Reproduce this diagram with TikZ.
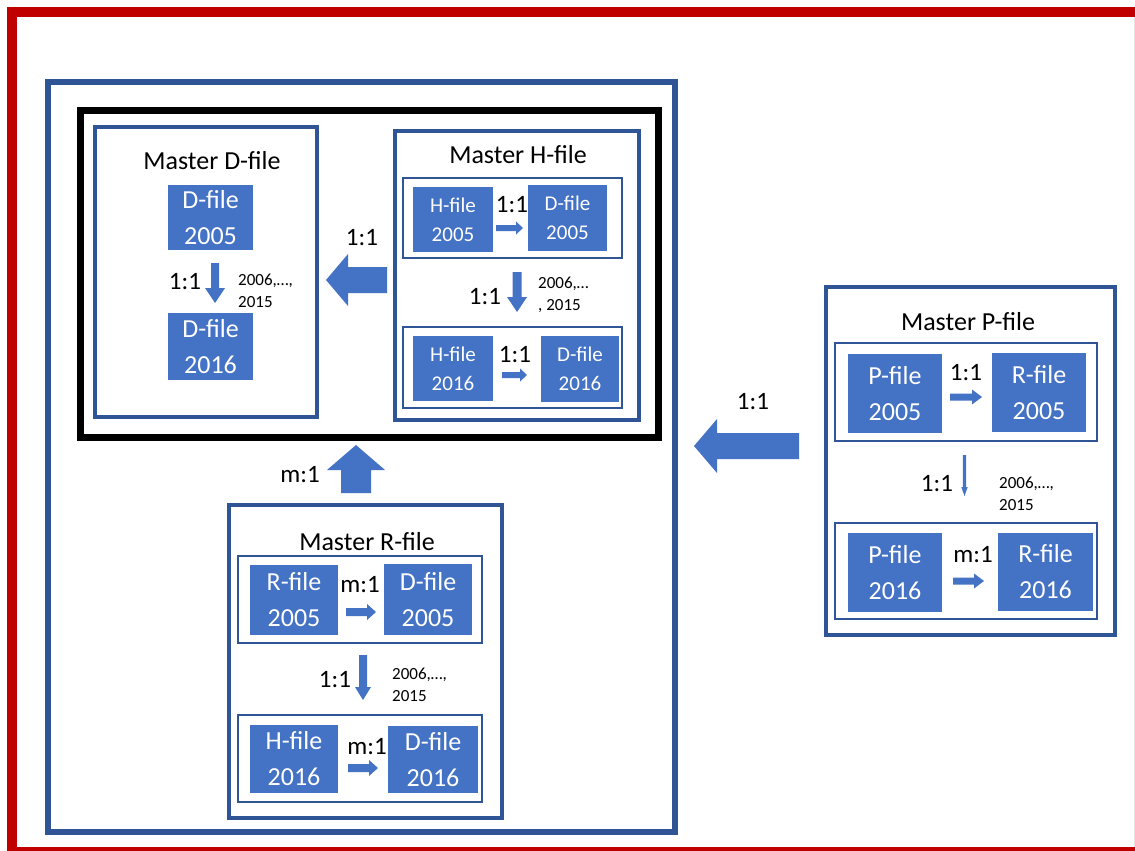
\documentclass[tikz,border=0pt]{standalone}
\usepackage{fontspec}
\setmainfont{Carlito}
\definecolor{framered}{HTML}{C00000}
\definecolor{dblue}{HTML}{2F5597}
\definecolor{fblue}{HTML}{4472C4}
% box node from corner coordinates: name, style, x1, y1, x2, y2, text
\newcommand\bxnode[7]{\node[#2, minimum width={(#5-#3)*1pt}, minimum height={(#6-#4)*1pt}] (#1) at ({(#3+#5)/2},{(#4+#6)/2}) {#7};}
% horizontal block arrow: tip x, y, head base x, tail x, shaft half, head half
\newcommand\blkH[6]{\fill[fblue] ({#1},{#2}) -- ({#3},{#2-#6}) -- ({#3},{#2-#5}) -- ({#4},{#2-#5}) -- ({#4},{#2+#5}) -- ({#3},{#2+#5}) -- ({#3},{#2+#6}) -- cycle;}
% vertical block arrow: x, tip y, head base y, tail y, shaft half, head half
\newcommand\blkV[6]{\fill[fblue] ({#1},{#2}) -- ({#1-#6},{#3}) -- ({#1-#5},{#3}) -- ({#1-#5},{#4}) -- ({#1+#5},{#4}) -- ({#1+#5},{#3}) -- ({#1+#6},{#3}) -- cycle;}
\begin{document}
\begin{tikzpicture}[x=1pt,y=-1pt,
  master/.style={draw=dblue, line width=4.5pt, inner sep=0, outer sep=0},
  grp/.style={draw=dblue, line width=1.3pt, inner sep=0, outer sep=0},
  fbox/.style={fill=fblue, text=white, inner sep=0, outer sep=0, align=center, font=\fontsize{26}{36}\selectfont},
  sbox/.style={fbox, font=\fontsize{21}{29}\selectfont},
  ttl/.style={font=\fontsize{26}{30}\selectfont, inner sep=0},
  ratio/.style={font=\fontsize{25}{30}\selectfont, inner sep=0},
  yrs/.style={font=\fontsize{17}{22}\selectfont, align=left, inner sep=0, anchor=west}]
\useasboundingbox (0,0) rectangle (1135,851);
\clip (0,0) rectangle (1135,851);
\fill[white] (0,0) rectangle (1135,851);
% red frame
\draw[framered, line width=10pt] (12,12) rectangle (1150,852);
\draw[gray!20, line width=1pt] (1134.5,17) -- (1134.5,847);
% outer containers
\bxnode{outer}{draw=dblue, line width=6.5pt}{48}{82}{675}{832}{}
\bxnode{core}{draw=black, line width=7pt}{80}{110}{658}{437}{}
% Master D-file
\bxnode{mD}{master}{95}{127}{317}{417}{}
\node[ttl] (mDt) at (212,161) {Master D-file};
\bxnode{D05}{fbox}{168}{185}{253}{250}{D-file\\2005}
\bxnode{D16}{fbox}{168}{313}{253}{380}{D-file\\2016}
\blkV{215}{303}{288}{263}{4}{10}
\node[ratio] (rD) at (185,282) {1:1};
\node[yrs] (yD) at (238,291) {2006,…,\\2015};
% arrow H -> D
\blkH{326}{280}{348}{387}{13}{26}
\node[ratio] (rHD) at (362,238) {1:1};
% Master H-file
\bxnode{mH}{master}{395}{131}{639}{420}{}
\node[ttl] (mHt) at (518,155) {Master H-file};
\bxnode{gH1}{grp}{403}{178}{622}{258}{}
\bxnode{gH2}{grp}{403}{327}{622}{408}{}
\bxnode{H05}{sbox}{413}{187}{493}{252}{H-file\\2005}
\bxnode{HD05}{sbox}{528}{185}{607}{251}{D-file\\2005}
\bxnode{H16}{sbox}{413}{336}{493}{401}{H-file\\2016}
\bxnode{HD16}{sbox}{541}{336}{619}{402}{D-file\\2016}
\node[ratio] (rH1) at (512,205) {1:1};
\blkH{523}{228}{516}{496}{3}{6.5}
\node[ratio] (rH2) at (515,355) {1:1};
\blkH{527}{375}{520}{502}{3}{6.5}
\blkV{517}{312}{297}{272}{4.5}{10}
\node[ratio] (rH3) at (485,297) {1:1};
\node[yrs] (yH) at (538,294.5) {2006,…\\, 2015};
% up arrow R -> core
\blkV{356}{445}{470}{493}{15}{29}
\node[ratio] (rRup) at (300,475) {m:1};
% Master R-file
\bxnode{mR}{master}{229}{505}{502}{818}{}
\node[ttl] (mRt) at (367,542) {Master R-file};
\bxnode{gR1}{grp}{238}{556}{482}{643}{}
\bxnode{gR2}{grp}{238}{715}{482}{802}{}
\bxnode{R05}{fbox}{250}{565}{338}{635}{R-file\\2005}
\bxnode{RD05}{fbox}{384}{564}{472}{635}{D-file\\2005}
\bxnode{RH16}{fbox}{250}{725}{338}{793}{H-file\\2016}
\bxnode{RD16}{fbox}{388}{726}{478}{793}{D-file\\2016}
\node[ratio] (rR1) at (360,585) {m:1};
\blkH{376}{612}{367}{346}{4}{8}
\node[ratio] (rR2) at (367,747) {m:1};
\blkH{378}{768}{369}{348}{4}{8}
\blkV{363}{700}{687}{655}{4}{8}
\node[ratio] (rR3) at (335,680) {1:1};
\node[yrs] (yR) at (392,684.5) {2006,…,\\2015};
% arrow P -> outer
\blkH{694}{446}{717}{799}{13}{27}
\node[ratio] (rPL) at (753,402) {1:1};
% Master P-file
\bxnode{mP}{master}{826}{287}{1115}{635}{}
\node[ttl] (mPt) at (968,322) {Master P-file};
\bxnode{gP1}{grp}{835}{343}{1097}{441}{}
\bxnode{gP2}{grp}{835}{523}{1097}{619}{}
\bxnode{P05}{fbox}{848}{354}{942}{433}{P-file\\2005}
\bxnode{PR05}{fbox}{992}{353}{1086}{432}{R-file\\2005}
\bxnode{P16}{fbox}{848}{533}{942}{612}{P-file\\2016}
\bxnode{PR16}{fbox}{998}{533}{1093}{611}{R-file\\2016}
\node[ratio] (rP1) at (966,373) {1:1};
\blkH{982}{397}{972}{950}{3.5}{7.5}
\node[ratio] (rP2) at (973,555) {m:1};
\blkH{984}{581}{974}{953}{3.5}{7.5}
\blkV{964.5}{496}{487}{455}{1.7}{3.2}
\node[ratio] (rP3) at (937,484) {1:1};
\node[yrs] (yP) at (999,493.5) {2006,…,\\2015};
\end{tikzpicture}
\end{document}
